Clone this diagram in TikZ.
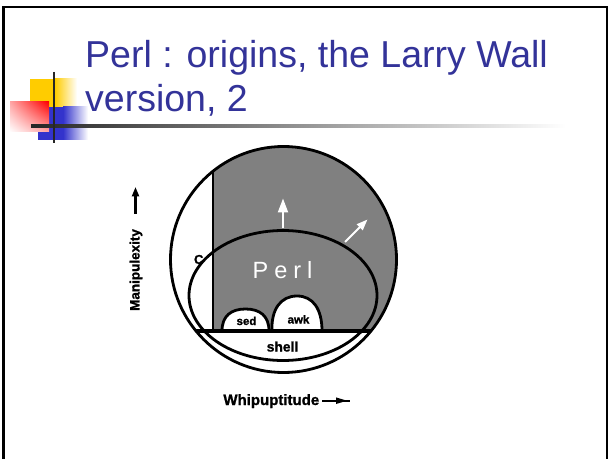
\documentclass[tikz,border=0pt]{standalone}
\usepackage{fontspec}
\setmainfont{Liberation Sans}
\newfontfamily\heavyfont{Liberation Sans Bold}[FakeBold=1.2]
\usetikzlibrary{arrows.meta,shadings}
\definecolor{titleblue}{HTML}{333399}
\definecolor{decoyellow}{HTML}{FFCC00}
\definecolor{decored}{HTML}{FF0000}
\definecolor{decoblue}{HTML}{3333CC}
\definecolor{perlgray}{HTML}{808080}
\tikzset{
  titletext/.style={anchor=base west, text=titleblue,
    font=\fontsize{37.5bp}{44bp}\selectfont},
  axislabel/.style={font=\heavyfont\fontsize{15bp}{17bp}\selectfont},
  toollabel/.style={font=\heavyfont\fontsize{11.5bp}{14bp}\selectfont},
  bump/.style={draw, fill=white, line width=2.8bp},
  outline/.style={draw, line width=2.8bp},
  whitearrow/.style={draw=white, line width=2bp},
}
\begin{document}
\begin{tikzpicture}[x=1bp, y=-1bp, every node/.style={inner sep=0pt}]
\useasboundingbox (0,0) rectangle (612,459);
\fill[white] (0,0) rectangle (612,459);

% slide frame
\draw[line width=2.5bp] (3.5,459) -- (3.5,7) -- (607,7) -- (607,459);

% corner ornament: three fading squares and a cross of lines
\fill[decoyellow] (30,79) rectangle (55.5,107);
\shade[left color=decoyellow, right color=white] (55,79) rectangle (77,107);
\fill[decoblue] (38,107) rectangle (63.5,140);
\shade[left color=decoblue, right color=white] (63,107) rectangle (88,140);
\shade[upper right=decored, upper left=decored!35!white,
       lower right=decored!35!white, lower left=white] (10,102) rectangle (49,132);
\shade[left color=black!85, right color=white] (31,124.8) rectangle (566,127.4);
\draw[line width=2.5bp, black!85] (54,72) -- (54,143);

% title
\node[titletext] (title1) at (85,68) {Perl : origins, the Larry Wall};
\node[titletext] (title2) at (85,112) {version, 2};

% the problem space
\coordinate (O) at (283.5,259.5);
\begin{scope}
  \clip (O) circle[radius=113bp];
  \fill[perlgray] (213,140) rectangle (400,331);
\end{scope}

% sed and awk
\draw[bump] (222,331) .. controls (222,316) and (231,309) .. (245.5,309)
            .. controls (260,309) and (269,316) .. (269,331) -- cycle;
\draw[bump] (272,331) .. controls (271,309) and (281,296) .. (297,296)
            .. controls (313,296) and (322,309) .. (322,331) -- cycle;

% Perl
\draw[outline] (283,295.5) ellipse[x radius=94bp, y radius=65bp];

% C border and shell border
\begin{scope}
  \clip (O) circle[radius=113bp];
  \draw[line width=2.3bp] (213,140) -- (213,331);
  \draw[line width=3.5bp] (180,331) -- (400,331);
\end{scope}
\draw[outline] (O) circle[radius=113bp];

% growth arrows
\coordinate (upA) at (283,228);
\coordinate (upB) at (283,198.5);
\draw[whitearrow, -{Triangle[length=14bp, width=10bp]}] (upA) -- (upB);
\coordinate (diagA) at (345,242);
\coordinate (diagB) at (367.5,219.5);
\draw[whitearrow, -{Triangle[length=11bp, width=8bp]}] (diagA) -- (diagB);

% labels
\node[anchor=base, text=white, font=\fontsize{23.5bp}{26bp}\selectfont] (perl)
  at (282.5,278.3) {P\hspace{6bp}e\hspace{6bp}r\hspace{6bp}l};
\node[anchor=base, font=\heavyfont\fontsize{13bp}{14bp}\selectfont] (clang) at (198.7,264) {C};
\node[toollabel, anchor=base] (sed) at (246.5,325) {sed};
\node[toollabel, anchor=base] (awk) at (298.5,323.5) {awk};
\node[anchor=base, font=\heavyfont\fontsize{13.8bp}{16bp}\selectfont] (shell) at (282.5,351.5) {shell};

% axes
\node[axislabel, rotate=90, font=\heavyfont\fontsize{13.5bp}{15bp}\selectfont] (manip) at (136,270) {Manipulexity};
\coordinate (manA) at (135.5,214);
\coordinate (manB) at (135.5,187);
\draw[line width=2.3bp, -{Triangle[length=9.5bp, width=7bp]}] (manA) -- (manB);

\node[axislabel, anchor=base] (whip) at (271.3,405) {Whipuptitude};
\coordinate (whA) at (322,400.7);
\coordinate (whB) at (350,400.7);
\draw[line width=1.8bp] (whA) -- (whB);
\fill (336,397.4) -- (347,400.7) -- (336,404) -- cycle;
\end{tikzpicture}
\end{document}
